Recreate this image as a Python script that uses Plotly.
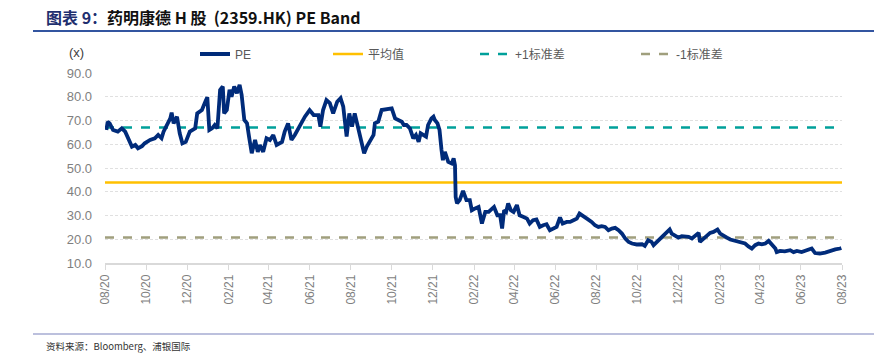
import plotly.graph_objects as go

# ---------------- data ----------------
pe_dates = [
    "2020-08-03","2020-08-05","2020-08-08","2020-08-13","2020-08-20","2020-08-26","2020-08-31",
    "2020-09-05","2020-09-10","2020-09-15","2020-09-19","2020-09-25","2020-09-29",
    "2020-10-07","2020-10-14","2020-10-19","2020-10-24","2020-10-27",
    "2020-11-01","2020-11-06","2020-11-08","2020-11-11","2020-11-16","2020-11-20","2020-11-24","2020-11-29",
    "2020-12-05","2020-12-13","2020-12-16","2020-12-23","2020-12-28","2020-12-31",
    "2021-01-03","2021-01-07","2021-01-11","2021-01-15","2021-01-19","2021-01-23","2021-01-25","2021-01-29",
    "2021-02-02","2021-02-05","2021-02-09","2021-02-13","2021-02-17","2021-02-20","2021-02-24","2021-02-28",
    "2021-03-03","2021-03-07","2021-03-12","2021-03-16","2021-03-19","2021-03-24","2021-03-29",
    "2021-04-03","2021-04-08","2021-04-13","2021-04-21","2021-04-25","2021-04-30",
    "2021-05-05","2021-05-10","2021-05-15","2021-05-20","2021-05-25",
    "2021-06-01","2021-06-07","2021-06-14","2021-06-17","2021-06-21","2021-06-26",
    "2021-07-01","2021-07-06","2021-07-12","2021-07-17","2021-07-21","2021-07-26","2021-07-30",
    "2021-08-03","2021-08-07","2021-08-12","2021-08-17","2021-08-21","2021-08-25","2021-08-30",
    "2021-09-04","2021-09-06","2021-09-11","2021-09-16","2021-09-24",
    "2021-10-01","2021-10-06","2021-10-11","2021-10-16","2021-10-19","2021-10-23","2021-10-28",
    "2021-11-02","2021-11-06","2021-11-10","2021-11-13","2021-11-17","2021-11-21","2021-11-24","2021-11-29",
    "2021-12-02","2021-12-04","2021-12-08","2021-12-11","2021-12-14","2021-12-16","2021-12-19","2021-12-24","2021-12-29",
    "2022-01-01","2022-01-03","2022-01-04","2022-01-06","2022-01-10","2022-01-15","2022-01-20","2022-01-25","2022-01-28",
    "2022-02-02","2022-02-07","2022-02-12","2022-02-17","2022-02-22","2022-02-27",
    "2022-03-02","2022-03-07","2022-03-11","2022-03-14","2022-03-17","2022-03-20","2022-03-23","2022-03-27","2022-03-31",
    "2022-04-05","2022-04-09","2022-04-15","2022-04-20","2022-04-24","2022-04-29",
    "2022-05-04","2022-05-09","2022-05-14","2022-05-19","2022-05-24","2022-05-29",
    "2022-06-03","2022-06-08","2022-06-12","2022-06-18","2022-06-23","2022-06-28",
    "2022-07-03","2022-07-07","2022-07-13","2022-07-18","2022-07-25","2022-07-30",
    "2022-08-04","2022-08-09","2022-08-14","2022-08-19","2022-08-24","2022-08-29",
    "2022-09-03","2022-09-08","2022-09-13","2022-09-18","2022-09-23","2022-09-30",
    "2022-10-08","2022-10-12","2022-10-17","2022-10-22","2022-10-25","2022-10-30",
    "2022-11-04","2022-11-09","2022-11-14","2022-11-18","2022-11-21","2022-11-26",
    "2022-12-01","2022-12-06","2022-12-11","2022-12-16","2022-12-21","2022-12-26","2022-12-31",
    "2023-01-02","2023-01-07","2023-01-12","2023-01-17","2023-01-22","2023-01-28",
    "2023-02-01","2023-02-06","2023-02-11","2023-02-16","2023-02-23",
    "2023-03-03","2023-03-10","2023-03-15","2023-03-20","2023-03-25","2023-03-30",
    "2023-04-04","2023-04-09","2023-04-14","2023-04-19","2023-04-24","2023-04-26",
    "2023-05-01","2023-05-08","2023-05-16","2023-05-21","2023-05-26",
    "2023-06-02","2023-06-10","2023-06-17","2023-06-22","2023-06-29",
    "2023-07-07","2023-07-14","2023-07-22","2023-07-29","2023-07-31",
]
pe_values = [
    66.0,69.5,68.8,66.0,65.3,66.7,65.3,
    62.5,59.0,59.7,58.3,59.2,60.4,
    61.8,62.5,63.9,62.5,65.3,
    68.1,70.9,73.3,68.8,71.6,64.6,60.4,61.0,
    65.3,66.7,73.0,74.4,77.9,79.8,
    66.0,66.7,68.1,66.7,82.9,84.3,73.0,74.4,
    82.9,80.0,84.3,81.5,85.0,80.8,70.2,68.8,
    63.2,56.2,61.8,56.8,59.7,56.8,62.5,
    61.8,63.9,59.7,61.0,65.3,68.8,
    61.8,63.9,66.7,69.5,71.6,
    74.4,72.3,72.3,67.4,74.4,78.6,
    77.3,73.0,77.9,79.4,75.8,63.2,73.0,
    67.4,73.0,67.4,60.4,56.2,59.0,61.8,
    63.9,68.8,69.5,74.4,74.7,
    75.1,70.9,70.2,69.5,68.1,68.1,66.7,
    62.5,63.9,61.0,64.6,63.9,63.2,68.1,70.9,
    71.6,70.2,68.8,66.0,57.6,53.3,56.8,52.6,51.9,
    54.0,51.2,37.8,35.1,36.5,40.4,36.5,36.5,32.2,
    33.0,33.6,26.6,31.5,31.5,33.0,
    33.6,30.1,30.1,24.5,32.2,31.5,35.1,32.2,31.5,
    34.4,30.1,29.4,28.7,26.6,28.0,
    28.3,25.2,25.9,26.3,23.8,24.5,
    25.2,29.2,26.6,27.3,27.3,28.0,
    28.7,30.8,29.4,28.7,27.3,25.9,
    25.2,25.5,25.2,23.8,24.5,24.8,
    23.8,22.4,20.3,18.9,18.2,17.8,
    17.9,17.2,19.6,18.9,17.5,18.9,
    20.3,21.7,23.1,24.1,22.4,21.7,
    20.7,21.3,21.3,21.0,20.3,21.7,22.7,
    18.9,20.3,21.3,22.7,23.1,24.1,
    22.4,21.3,20.7,19.9,19.3,
    18.9,18.2,17.0,16.1,17.5,18.2,
    17.9,18.2,19.3,17.5,16.1,14.6,
    15.1,14.9,15.4,14.6,15.1,
    14.6,15.4,16.1,14.2,14.0,
    14.4,15.1,15.7,16.1,16.3,
]
band_names = ["平均值", "+1标准差", "-1标准差"]
band_values = [43.9, 67.1, 20.7]
band_colors = ["#FFC000", "#00A09A", "#A09F7D"]
band_dash = ["solid", "dash", "dash"]

x_range = ["2020-08-01", "2023-08-01"]
y_ticks = [10, 20, 30, 40, 50, 60, 70, 80, 90]
y_labels = [f"{v:.1f}" for v in y_ticks]

title_prefix = "图表 9："
title_main = "药明康德 H 股  (2359.HK) PE Band"
source_text = "资料来源：Bloomberg、浦银国际"

# ---------------- figure ----------------
W, H = 874, 353
L, R, T, B = 105, 32, 73, 90
pw, ph = W - L - R, H - T - B

def px(xp):
    return (xp - L) / pw

def py(yp):
    return (H - B - yp) / ph

fig = go.Figure()

legend_keys = ["legend2", "legend3", "legend4"]
for name, val, col, dsh, lk in zip(band_names, band_values, band_colors, band_dash, legend_keys):
    fig.add_trace(go.Scatter(
        x=x_range, y=[val, val], mode="lines", name=name,
        line=dict(color=col, width=2.5, dash=dsh), legend=lk,
    ))

fig.add_trace(go.Scatter(
    x=pe_dates, y=pe_values, mode="lines", name="PE",
    line=dict(color="#002B7A", width=3.8), legend="legend",
))

leg_font = dict(family="Liberation Sans, Noto Sans CJK SC", size=12, color="#595959")
legend_x = {"legend": 195, "legend2": 328, "legend3": 475, "legend4": 636}
legend_cfg = {}
for k, xpix in legend_x.items():
    legend_cfg[k] = dict(
        x=px(xpix), y=py(54), xanchor="left", yanchor="middle",
        orientation="h", font=leg_font, bgcolor="rgba(0,0,0,0)",
        borderwidth=0, itemwidth=30, tracegroupgap=0,
    )

fig.update_layout(
    width=W, height=H,
    margin=dict(l=L, r=R, t=T, b=B, pad=0),
    paper_bgcolor="white", plot_bgcolor="white",
    showlegend=True,
    **legend_cfg,
    xaxis=dict(
        type="date", range=x_range, dtick="M2", tick0="2020-08-01",
        tickformat="%m/%y", tickangle=-90,
        showgrid=False, showline=True, linecolor="#D9D9D9", linewidth=1.5,
        ticks="outside", ticklen=5, tickcolor="#D9D9D9", tickwidth=1,
        tickfont=dict(family="Liberation Sans", size=12, color="#7F7F7F"),
        zeroline=False,
    ),
    yaxis=dict(
        range=[10, 90], tickvals=y_ticks, ticktext=y_labels,
        showgrid=True, gridcolor="#E0E0E0", gridwidth=1, griddash="3px,2px",
        showline=False, zeroline=False, ticks="", ticklabelstandoff=12,
        tickfont=dict(family="Liberation Sans", size=13, color="#7F7F7F"),
    ),
)

# title
fig.add_annotation(
    x=px(44), y=py(17), xref="paper", yref="paper", xanchor="left", yanchor="middle",
    showarrow=False,
    text=f"<b><span style='color:#1F2F6F'>{title_prefix}</span>{title_main}</b>",
    font=dict(family="Noto Sans CJK SC", size=16, color="#111111"),
)
# (x) unit label
fig.add_annotation(
    x=px(76), y=py(53), xref="paper", yref="paper", xanchor="center", yanchor="middle",
    showarrow=False, text="(x)",
    font=dict(family="Liberation Sans", size=13, color="#404040"),
)
# source
fig.add_annotation(
    x=px(44), y=py(346), xref="paper", yref="paper", xanchor="left", yanchor="middle",
    showarrow=False, text=source_text,
    font=dict(family="Noto Sans CJK SC", size=9.5, color="#333333"),
)
# title underline and footer line
fig.add_shape(type="line", xref="paper", yref="paper",
              x0=px(33), x1=px(874), y0=py(31), y1=py(31),
              line=dict(color="#3355A0", width=2))
fig.add_shape(type="line", xref="paper", yref="paper",
              x0=px(33), x1=px(874), y0=py(334), y1=py(334),
              line=dict(color="#A6ABD2", width=1.5))

fig.write_html("out.html")
